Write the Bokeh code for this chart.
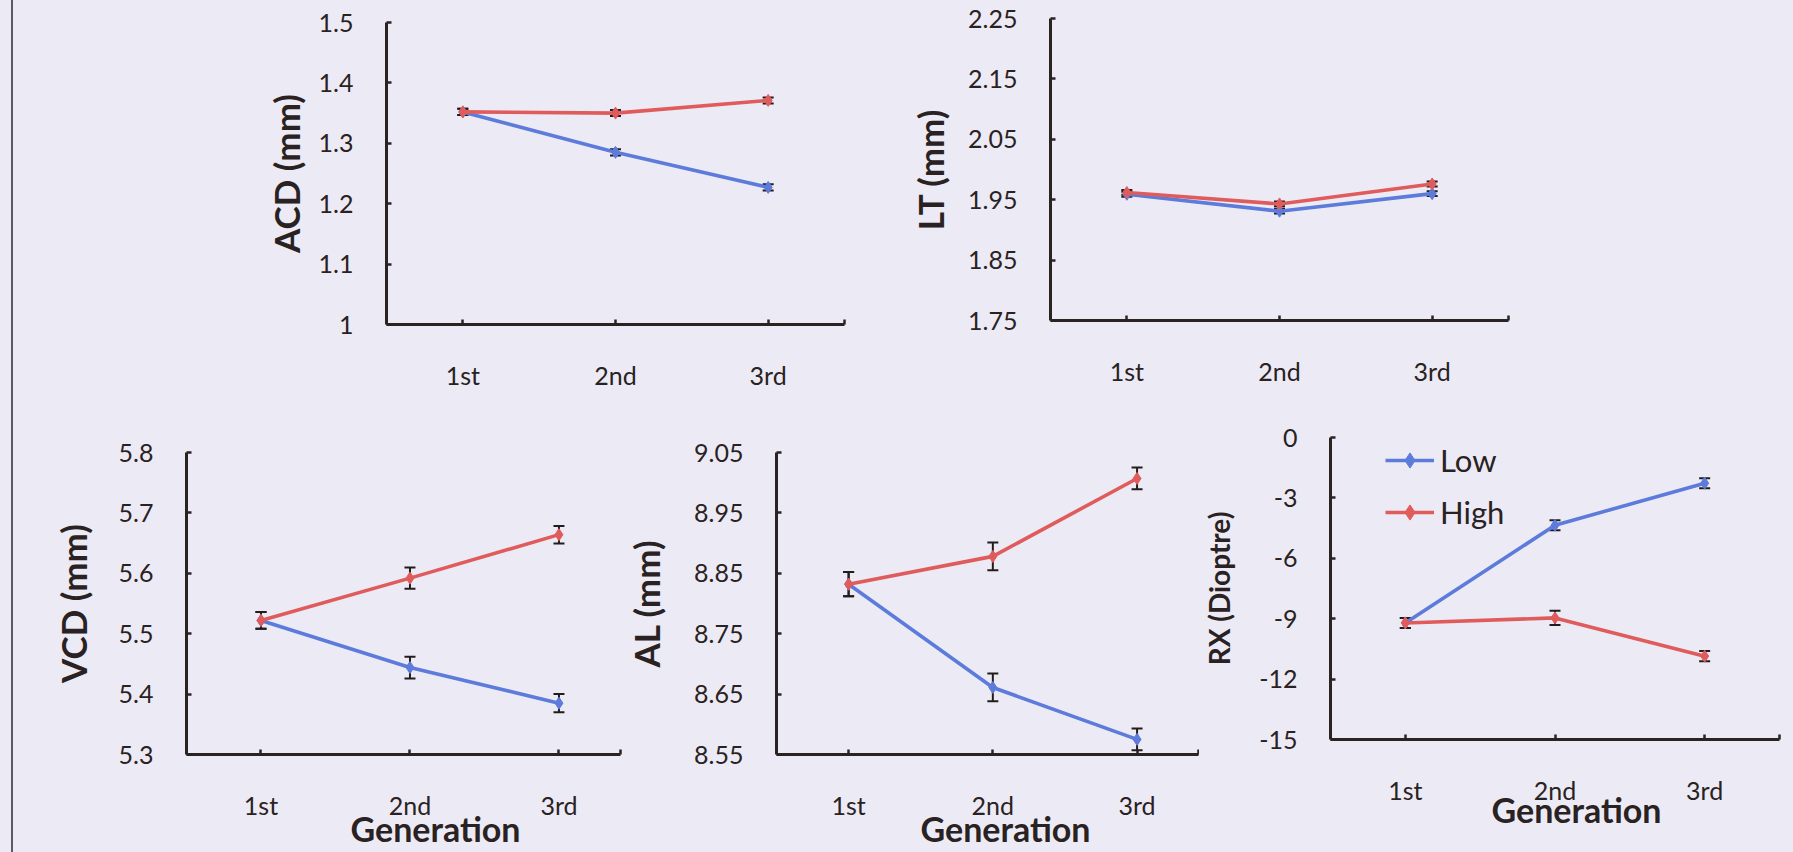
from bokeh.plotting import figure
from bokeh.layouts import row, column
from bokeh.models import (Range1d, FixedTicker, Whisker, TeeHead, ColumnDataSource,
                          Legend, Title)
from bokeh.embed import file_html
from bokeh.resources import INLINE

# ---------------- data ----------------
generations = ["1st", "2nd", "3rd"]
gen_pos = [1, 2, 3]
series_names = ["Low", "High"]
x_title_text = "Generation"

acd_low = [1.352, 1.285, 1.227]
acd_low_err = [0.005, 0.005, 0.005]
acd_high = [1.352, 1.350, 1.371]
acd_high_err = [0.005, 0.005, 0.005]
acd_ticks = [1.0, 1.1, 1.2, 1.3, 1.4, 1.5]
acd_tick_labels = ["1", "1.1", "1.2", "1.3", "1.4", "1.5"]

lt_low = [1.959, 1.931, 1.960]
lt_low_err = [0.004, 0.004, 0.004]
lt_high = [1.962, 1.943, 1.976]
lt_high_err = [0.004, 0.004, 0.004]
lt_ticks = [1.75, 1.85, 1.95, 2.05, 2.15, 2.25]
lt_tick_labels = ["1.75", "1.85", "1.95", "2.05", "2.15", "2.25"]

vcd_low = [5.522, 5.444, 5.385]
vcd_low_err = [0.014, 0.018, 0.015]
vcd_high = [5.522, 5.592, 5.664]
vcd_high_err = [0.014, 0.0175, 0.0145]
vcd_ticks = [5.3, 5.4, 5.5, 5.6, 5.7, 5.8]
vcd_tick_labels = ["5.3", "5.4", "5.5", "5.6", "5.7", "5.8"]

al_low = [8.832, 8.661, 8.575]
al_low_err = [0.02, 0.023, 0.018]
al_high = [8.832, 8.878, 9.007]
al_high_err = [0.02, 0.023, 0.018]
al_ticks = [8.55, 8.65, 8.75, 8.85, 8.95, 9.05]
al_tick_labels = ["8.55", "8.65", "8.75", "8.85", "8.95", "9.05"]

rx_low = [-9.21, -4.36, -2.27]
rx_low_err = [0.25, 0.25, 0.25]
rx_high = [-9.21, -8.96, -10.86]
rx_high_err = [0.25, 0.35, 0.25]
rx_ticks = [-15, -12, -9, -6, -3, 0]
rx_tick_labels = ["-15", "-12", "-9", "-6", "-3", "0"]

# ---------------- style ----------------
BLUE = "#5d7bdb"
RED = "#e05c5c"
AX = "#2b2222"
TXT = "#2a2222"
ERR = "#231c1c"
FONT = "Lato"


def panel(fig_w, fig_h, b_left, b_right, b_top, b_bottom, x_end,
          y_ticks, y_tick_labels, y_title, title_size, title_standoff,
          low, low_err, high, high_err, x_title=None, x_title_offset=0,
          x_title_standoff=0, legend_loc=None, shift=0):
    extra = {}
    if shift:
        extra["styles"] = {"transform": "translateY(%dpx)" % shift}
    p = figure(width=fig_w, height=fig_h, output_backend="svg", toolbar_location=None,
               x_range=Range1d(0.5, x_end), y_range=Range1d(y_ticks[0], y_ticks[-1]),
               min_border_left=b_left, min_border_right=b_right,
               min_border_top=b_top, min_border_bottom=b_bottom,
               background_fill_color=None, border_fill_color=None,
               outline_line_color=None, **extra)
    p.grid.visible = False

    renderers = []
    for vals, errs, col in ((low, low_err, BLUE), (high, high_err, RED)):
        src = ColumnDataSource(dict(
            x=gen_pos, y=vals,
            upper=[v + e for v, e in zip(vals, errs)],
            lower=[v - e for v, e in zip(vals, errs)]))
        ln = p.line("x", "y", source=src, line_color=col, line_width=3.6, line_join="round")
        wk = Whisker(base="x", upper="upper", lower="lower", source=src, dimension="height",
                     line_color=ERR, line_width=2,
                     upper_head=TeeHead(size=11, line_color=ERR, line_width=2),
                     lower_head=TeeHead(size=11, line_color=ERR, line_width=2))
        p.add_layout(wk)
        pt = p.scatter("x", "y", source=src, marker="diamond", size=12,
                       fill_color=col, line_color=col)
        renderers.append((ln, pt))

    # x axis
    xa = p.xaxis[0]
    xa.ticker = FixedTicker(ticks=gen_pos + [x_end])
    overrides = {pos: lab for pos, lab in zip(gen_pos, generations)}
    overrides[x_end] = ""
    xa.major_label_overrides = overrides
    xa.major_label_standoff = 35

    # y axis
    ya = p.yaxis[0]
    ya.ticker = FixedTicker(ticks=y_ticks)
    ya.major_label_overrides = {t: l for t, l in zip(y_ticks, y_tick_labels)}
    ya.major_label_standoff = 33
    ya.axis_label = y_title
    ya.axis_label_standoff = title_standoff
    ya.axis_label_text_font_size = title_size

    for ax in (xa, ya):
        ax.axis_line_width = 3
        ax.axis_line_color = AX
        ax.major_tick_line_color = AX
        ax.major_tick_line_width = 2.5
        ax.major_tick_in = 5
        ax.major_tick_out = 0
        ax.minor_tick_in = 0
        ax.minor_tick_out = 0
        ax.major_label_text_font = FONT
        ax.major_label_text_font_size = "25px"
        ax.major_label_text_color = TXT
        ax.axis_label_text_font = FONT
        ax.axis_label_text_font_style = "bold"
        ax.axis_label_text_color = TXT

    if x_title:
        t = Title(text=x_title, align="left", offset=x_title_offset,
                  standoff=x_title_standoff, text_font=FONT, text_font_size="34px",
                  text_font_style="bold", text_color=TXT)
        p.add_layout(t, "below")

    if legend_loc is not None:
        leg = Legend(items=[(series_names[0], list(renderers[0])),
                            (series_names[1], list(renderers[1]))],
                     location=legend_loc)
        leg.border_line_color = None
        leg.background_fill_alpha = 0
        leg.label_text_font = FONT
        leg.label_text_font_size = "31px"
        leg.label_text_color = TXT
        leg.glyph_width = 49
        leg.glyph_height = 38
        leg.label_height = 38
        leg.spacing = 14
        leg.padding = 0
        leg.margin = 0
        leg.label_standoff = 6
        p.add_layout(leg)
    return p


# top row: height 401, frames 302 tall
f_acd = panel(900, 401, 386, 56, 22, 77, 3.5, acd_ticks, acd_tick_labels,
              "ACD (mm)", "35px", 9, acd_low, acd_low_err, acd_high, acd_high_err)
f_lt = panel(893, 401, 150, 285, 22, 77, 3.5, lt_ticks, lt_tick_labels,
             "LT (mm)", "35px", 14, lt_low, lt_low_err, lt_high, lt_high_err, shift=-4)
# bottom row: height 451, frames 302 tall, drawn lower (page clips the spare border)
f_vcd = panel(622, 451, 186, 2, 40, 109, 3.413, vcd_ticks, vcd_tick_labels,
              "VCD (mm)", "35px", 22, vcd_low, vcd_low_err, vcd_high, vcd_high_err,
              x_title=x_title_text, x_title_offset=164, x_title_standoff=-33, shift=11)
f_al = panel(577, 451, 140, 1, 40, 109, 3.426, al_ticks, al_tick_labels,
             "AL (mm)", "35px", 24, al_low, al_low_err, al_high, al_high_err,
             x_title=x_title_text, x_title_offset=144, x_title_standoff=-33, shift=11)
f_rx = panel(594, 451, 116, 14, 40, 109, 3.5, rx_ticks, rx_tick_labels,
             "RX (Dioptre)", "28px", 20, rx_low, rx_low_err, rx_high, rx_high_err,
             x_title=x_title_text, x_title_offset=161, x_title_standoff=-45,
             legend_loc=(55, 208), shift=-4)

bg = ("linear-gradient(to right, #ecebf5 0px, #ecebf5 11px, #5c5a5e 11px, "
      "#5c5a5e 13px, #ecebf5 13px, #ecebf5 100%)")
layout = column(row(f_acd, f_lt), row(f_vcd, f_al, f_rx),
                styles={"background": bg, "overflow": "hidden"})

open("out.html", "w").write(file_html(layout, INLINE))
